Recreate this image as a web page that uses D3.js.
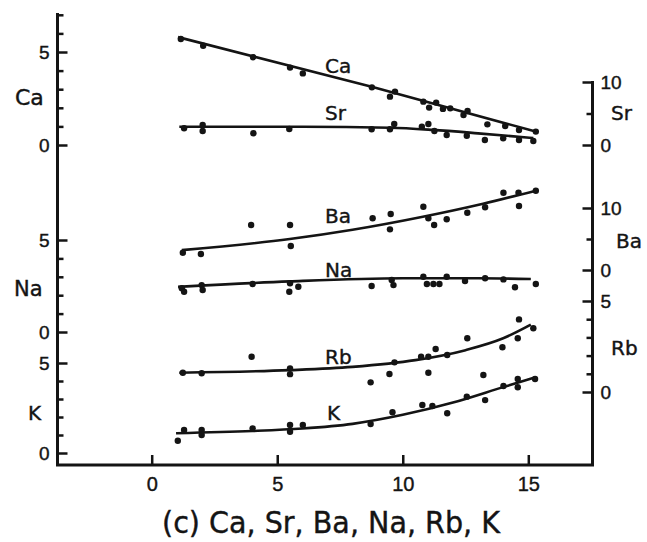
<!DOCTYPE html>
<html>
<head>
<meta charset="utf-8">
<script src="https://cdn.jsdelivr.net/npm/d3@7"></script>
<style>
  body { margin: 0; background: #fff; }
  svg { font-family: "DejaVu Sans", sans-serif; }
  svg text { stroke: #141414; stroke-width: 0.4px; }
</style>
</head>
<body>
<div id="chart"></div>
<script>
// Stacked element profiles, each drawn on its own offset scale.
// Points are [x, value]; *Fit arrays are the hand-drawn trend curves.

const xTicks = [0, 5, 10, 15];
const seriesNames = ["Ca", "Sr", "Ba", "Na", "Rb", "K"];

const caPts = [[1.16,5.70],[2.05,5.34],[4.04,4.72],[5.51,4.16],[6.02,3.85],[8.77,3.10],[9.69,2.87],[9.49,2.60],
  [10.82,2.33],[11.05,2.01],[11.33,2.28],[11.6,1.94],[11.89,1.97],[12.42,1.61],[12.58,1.83],[13.37,1.11],
  [14.08,1.02],[14.63,0.81],[15.3,0.72]];
const caFit = [[1.05,5.8],[8.8,3.12],[15.3,0.72]];

const srPts = [[1.29,2.65],[2.03,3.17],[2.03,2.22],[4.05,1.86],[5.48,2.54],[8.76,2.49],[9.49,2.49],[9.66,3.33],
  [10.76,2.90],[11.02,3.33],[11.26,2.22],[11.75,1.59],[12.55,1.48],[13.27,0.79],[14.0,1.06],[14.63,0.79],[15.2,0.63]];
const srFit = [[1.1,2.9],[6,2.9],[9.5,2.75],[11.2,2.4],[13,1.85],[15.2,1.1]];

const baPts = [[1.24,2.79],[1.96,2.58],[3.96,7.26],[5.51,7.26],[5.54,3.87],[8.80,8.34],[9.52,9.03],[9.49,6.56],
  [10.82,10.21],[11.02,8.34],[11.25,7.26],[11.75,8.18],[12.57,9.24],[13.28,10.11],[14.01,12.47],[14.63,10.32],
  [14.61,12.47],[15.3,12.79]];
const baFit = [[1.2,3.2],[5.5,5.0],[8,6.5],[10.8,8.6],[13.2,10.7],[15.3,12.8]];

const naPts = [[1.2,2.38],[1.29,2.19],[1.99,2.55],[2.03,2.28],[4.02,2.61],[5.51,2.65],[5.48,2.19],[5.84,2.46],
  [8.76,2.5],[9.56,2.83],[9.63,2.55],[10.82,3.0],[10.96,2.61],[11.22,2.61],[11.46,2.61],[11.75,3.0],
  [12.48,2.77],[13.28,2.92],[14.01,2.86],[14.47,2.43],[15.3,2.61]];
const naFit = [[1.05,2.45],[5.5,2.75],[10,2.92],[13,2.92],[15.1,2.88]];

const rbPts = [[1.24,1.06],[1.99,1.03],[3.98,1.94],[5.51,1.3],[5.51,0.98],[8.72,0.53],[9.47,0.99],[9.67,1.63],
  [10.73,1.94],[11.02,1.94],[11.02,1.06],[11.31,2.36],[11.77,2.03],[12.57,2.95],[13.21,0.93],[13.97,2.46],
  [14.63,3.99],[14.58,2.95],[15.2,3.5]];
const rbFit = [[1.1,1.06],[5.5,1.2],[8,1.38],[10.5,1.75],[12.5,2.3],[14,2.95],[15.1,3.7]];

const kPts = [[1.04,0.68],[1.29,1.28],[1.99,1.28],[1.99,1.0],[4.02,1.37],[5.51,1.56],[5.51,1.18],[6.02,1.56],
  [8.72,1.61],[9.59,2.26],[10.78,2.67],[11.18,2.61],[11.77,2.21],[12.55,3.13],[13.28,2.94],[14.01,3.72],
  [14.58,4.11],[14.58,3.65],[15.27,4.11]];
const kFit = [[0.97,1.1],[4,1.22],[6,1.36],[8,1.62],[10,2.12],[12,2.8],[14,3.66],[15.27,4.2]];

const width = 647, height = 542;
const axL = 57.5, axR = 592.5, axB = 465;
const ink = "#141414";

const svg = d3.select("#chart").append("svg")
  .attr("width", width).attr("height", height);

const x = d3.scaleLinear().domain([0, 15]).range([151.7, 528.3]);

// one vertical scale per element
const yCa = d3.scaleLinear().domain([0, 5]).range([145, 52]);
const ySr = d3.scaleLinear().domain([0, 10]).range([145, 82]);
const yBa = d3.scaleLinear().domain([0, 10]).range([270, 208]);
const yNa = d3.scaleLinear().domain([0, 5]).range([332, 240]);
const yRb = d3.scaleLinear().domain([0, 5]).range([392, 301]);
const yK  = d3.scaleLinear().domain([0, 5]).range([453, 363]);

// frame lines
svg.append("path")
  .attr("d", `M${axL},13V${axB}H${axR}V81`)
  .attr("fill", "none").attr("stroke", ink).attr("stroke-width", 3);

// minor ticks and labelled major ticks go in separate groups
function tickAxis(axisFn, scale, minor, major, tx) {
  const gMinor = svg.append("g").attr("transform", `translate(${tx},0)`)
    .call(axisFn(scale).tickValues(minor).tickSize(-6).tickFormat(""));
  const gMajor = svg.append("g").attr("transform", `translate(${tx},0)`)
    .call(axisFn(scale).tickValues(major).tickSize(-10).tickPadding(8).tickFormat(d3.format("d")));
  [gMinor, gMajor].forEach(g => {
    g.select(".domain").remove();
    g.selectAll("line").attr("stroke", ink).attr("stroke-width", 2.5);
  });
  gMajor.selectAll("text").attr("fill", ink).style("font-size", "19px");
}

// left side: Ca, Na, K
tickAxis(d3.axisLeft, yCa, [1,2,3,4,6,7], [0,5], axL);
tickAxis(d3.axisLeft, yNa, [1,2,3,4], [0,5], axL);
tickAxis(d3.axisLeft, yK,  [1,2,3,4], [0,5], axL);
// right side: Sr, Ba, Rb
tickAxis(d3.axisRight, ySr, [5], [0,10], axR);
tickAxis(d3.axisRight, yBa, [5], [0,10], axR);
tickAxis(d3.axisRight, yRb, [1,2,3,4], [0,5], axR);

// bottom
const gx = svg.append("g").attr("transform", `translate(0,${axB})`)
  .call(d3.axisBottom(x).tickValues(xTicks).tickSize(-10).tickPadding(12).tickFormat(d3.format("d")));
gx.select(".domain").remove();
gx.selectAll("line").attr("stroke", ink).attr("stroke-width", 2.5);
gx.selectAll("text").attr("fill", ink).style("font-size", "20px");

// series
const series = [
  { name: seriesNames[0], pts: caPts, fit: caFit, y: yCa, lx: 325, ly: 73,  sx: 15,  sy: 105, fs: 22 },
  { name: seriesNames[1], pts: srPts, fit: srFit, y: ySr, lx: 325, ly: 120, sx: 611, sy: 120, fs: 20 },
  { name: seriesNames[2], pts: baPts, fit: baFit, y: yBa, lx: 325, ly: 223, sx: 616, sy: 248, fs: 20 },
  { name: seriesNames[3], pts: naPts, fit: naFit, y: yNa, lx: 325, ly: 277, sx: 14,  sy: 296, fs: 21 },
  { name: seriesNames[4], pts: rbPts, fit: rbFit, y: yRb, lx: 325, ly: 364, sx: 611, sy: 355, fs: 20 },
  { name: seriesNames[5], pts: kPts,  fit: kFit,  y: yK,  lx: 327, ly: 420, sx: 28,  sy: 420, fs: 20 }
];

series.forEach(s => {
  const line = d3.line()
    .x(d => x(d[0])).y(d => s.y(d[1]))
    .curve(d3.curveMonotoneX);
  svg.append("path")
    .attr("d", line(s.fit))
    .attr("fill", "none").attr("stroke", ink).attr("stroke-width", 2.6);

  svg.append("g").selectAll("circle")
    .data(s.pts).join("circle")
    .attr("cx", d => x(d[0])).attr("cy", d => s.y(d[1]))
    .attr("r", 3.2).attr("fill", ink);

  // name along the curve
  svg.append("text")
    .attr("x", s.lx).attr("y", s.ly)
    .attr("fill", ink).style("font-size", "20px")
    .text(s.name);

  // name beside its axis
  svg.append("text")
    .attr("x", s.sx).attr("y", s.sy)
    .attr("fill", ink).style("font-size", s.fs + "px")
    .text(s.name);
});

svg.append("text")
  .attr("x", 162).attr("y", 533)
  .attr("textLength", 338).attr("lengthAdjust", "spacingAndGlyphs")
  .attr("fill", ink).style("font-size", "30px")
  .text("(c) Ca, Sr, Ba, Na, Rb, K");
</script>
</body>
</html>
